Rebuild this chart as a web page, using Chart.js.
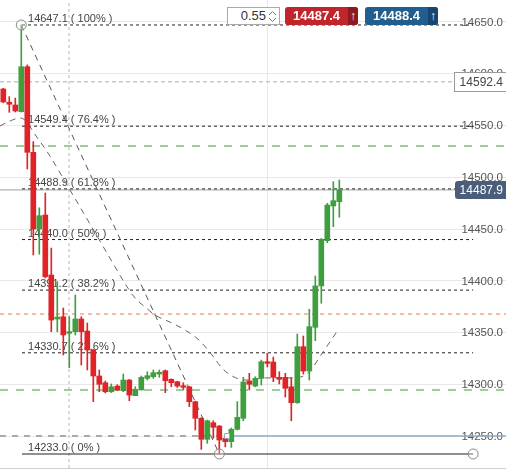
<!DOCTYPE html>
<html><head><meta charset="utf-8">
<script src="https://cdn.jsdelivr.net/npm/chart.js@4.4.0/dist/chart.umd.min.js"></script>
<style>
html,body{margin:0;padding:0;background:#fff;}
#wrap{position:relative;width:506px;height:473px;overflow:hidden;}
canvas{display:block;}
.w{position:absolute;top:7px;height:18px;box-sizing:border-box;font-family:"Liberation Sans",Arial,sans-serif;}
#inp{left:227px;width:53px;border:1px solid #aaa;background:#fff;color:#333;font-size:13px;line-height:16px;}
#inp .t{position:absolute;right:13px;top:0;}
#inp svg{position:absolute;right:2px;top:2px;}
.pb{width:73px;border-radius:3px;color:#fff;font-weight:bold;font-size:13px;line-height:18px;overflow:hidden;}
.pb .t{position:absolute;left:8px;top:0;}
.pb .a{position:absolute;right:0;top:0;width:10px;height:18px;text-align:center;font-size:12px;font-weight:bold;}
#sell{left:285px;background:#c1252c;}
#sell .a{background:#8e1a20;}
#buy{left:365px;background:#225e8d;}
#buy .a{background:#174670;}
</style></head><body>
<div id="wrap">
<canvas id="c" width="506" height="473"></canvas>
<div class="w" id="inp"><span class="t">0.55</span><svg width="9" height="13" viewBox="0 0 9 13"><polyline points="1,5 4.5,1.5 8,5" fill="none" stroke="#777" stroke-width="1"/><polyline points="1,8 4.5,11.5 8,8" fill="none" stroke="#777" stroke-width="1"/></svg></div>
<div class="w pb" id="sell"><span class="t">14487.4</span><span class="a">↑</span></div>
<div class="w pb" id="buy"><span class="t">14488.4</span><span class="a">↑</span></div>
</div>
<script>
// ---- data ----
const openP = [14585.3,14572.5,14569.9,14563.4,14606.8,14524.2,14450.2,14463.7,14405.8,14363.3,14365.5,14349.5,14351.1,14363.3,14351.7,14333.4,14308.3,14301.8,14293.1,14298.6,14294.1,14304.4,14289.3,14294.8,14306.0,14307.6,14310.2,14313.4,14305.1,14302.8,14298.9,14297.9,14283.5,14267.5,14247.2,14263.2,14260.0,14248.2,14244.9,14256.8,14267.5,14303.5,14298.6,14306.0,14322.1,14321.8,14307.0,14307.0,14297.9,14282.5,14336.6,14313.1,14355.3,14395.2,14438.9,14472.4,14476.5];
const highP = [14586.0,14577.9,14576.6,14647.1,14608.5,14534.5,14470.7,14484.9,14431.8,14399.3,14373.9,14365.5,14386.5,14365.5,14359.4,14334.0,14314.1,14303.5,14300.6,14299.9,14310.2,14305.0,14297.9,14308.3,14312.4,14314.1,14314.1,14314.1,14305.6,14303.3,14301.8,14298.4,14284.0,14268.0,14265.8,14265.1,14260.5,14251.3,14258.1,14283.5,14307.0,14310.9,14307.6,14323.7,14330.2,14326.6,14312.4,14310.9,14307.0,14348.8,14346.9,14372.7,14404.8,14441.0,14475.0,14495.8,14497.5];
const lowP = [14572.0,14562.8,14563.1,14563.0,14508.1,14425.1,14425.8,14403.0,14351.1,14351.1,14328.6,14316.3,14347.9,14318.9,14314.1,14283.5,14293.1,14291.9,14292.3,14294.1,14293.1,14284.5,14289.3,14294.8,14304.4,14306.0,14307.0,14292.2,14297.9,14297.2,14295.4,14278.7,14256.2,14237.5,14243.3,14248.2,14233.0,14239.9,14239.4,14256.2,14265.1,14294.8,14297.9,14299.6,14317.0,14302.8,14300.6,14288.0,14265.1,14281.9,14310.2,14304.4,14342.4,14378.5,14437.0,14452.4,14461.5];
const closeP = [14572.8,14570.6,14564.1,14606.8,14524.2,14450.2,14463.0,14404.1,14362.3,14365.2,14347.9,14351.1,14363.3,14351.1,14333.4,14308.3,14300.3,14293.1,14297.9,14294.8,14304.4,14289.9,14295.4,14307.0,14308.6,14311.5,14311.9,14303.8,14301.8,14298.6,14297.4,14283.5,14267.5,14247.2,14265.1,14258.8,14246.5,14244.9,14256.8,14268.4,14302.5,14300.3,14306.0,14322.1,14320.5,14307.0,14305.1,14296.4,14282.5,14336.6,14313.1,14355.9,14395.2,14440.2,14473.3,14477.5,14487.9];
const candleIdx = openP.map((_, i) => i);

const fibLevels = [14647.1, 14549.4, 14488.9, 14440.0, 14391.2, 14330.7, 14233.0];
const fibPct = ['100%', '76.4%', '61.8%', '50%', '38.2%', '23.6%', '0%'];
const fibAnchorStart = {x: 3, y: 14647.1};
const fibAnchorEnd = {x: 36, y: 14233.0};
const fibRightEnd = 78.3;

const curveX = [-0.55,0.78,2.78,3.78,5.12,7.45,11.12,18.45,20.12,21.95,23.62,25.28,28.12,30.28,32.62,34.78,36.45,38.12,40.28,43.62,48.28,50.78,53.28,55.78];
const curveY = [14549.6,14553.5,14557.3,14554.4,14542.8,14523.5,14487.8,14415.4,14399.0,14383.6,14374.9,14367.2,14359.4,14352.7,14343.0,14328.6,14316.0,14308.3,14304.4,14306.4,14306.4,14311.2,14331.5,14352.7];

const yTickVals = [14250, 14300, 14350, 14400, 14450, 14500, 14550, 14600, 14650];
const greenLevels = [14530.3, 14294.8];
const peachLevel = 14368.1;
const grayLevel = 14592.4;
const blueLevel = 14250.4;
const blueStart = 37.3;
const lastPrice = 14487.9;
const crossX = 10.95;
const vGrid = [19.95, 68.12];
const yRange = {min: 14219.5, max: 14671.2};
const xRange = {min: -0.55, max: 83.78};

const RED = '#df2326', GREEN = '#3f9f3f';
const col = candleIdx.map(i => closeP[i] >= openP[i] ? GREEN : RED);
const FONT = '"Liberation Sans", Arial, sans-serif';
Chart.defaults.font.family = FONT;

function hline(y, x0, x1, color, width, dash, order) {
  return {type: 'line', data: [{x: x0, y: y}, {x: x1, y: y}], borderColor: color, borderWidth: width,
    borderDash: dash, pointRadius: 0, fill: false, order: order, tension: 0};
}
const ds = [];
ds.push({type: 'bar', data: candleIdx.map(i => ({x: i, y: [lowP[i], highP[i]]})), backgroundColor: col,
  barThickness: 1, grouped: false, borderWidth: 0, order: 2});
ds.push({type: 'bar', data: candleIdx.map(i => ({x: i, y: [openP[i], closeP[i]]})), backgroundColor: col,
  barThickness: 5, grouped: false, borderWidth: 0, order: 1, minBarLength: 1});
ds.push(hline(grayLevel, xRange.min, xRange.max, '#c8c8c8', 1.5, [4, 3], 20));
greenLevels.forEach(v => ds.push(hline(v, xRange.min, xRange.max, 'rgba(120,190,120,0.75)', 2, [8, 8], 20)));
ds.push(hline(peachLevel, xRange.min, xRange.max, 'rgba(240,165,135,0.75)', 2, [4, 4], 20));
ds.push(hline(blueLevel, xRange.min, blueStart, '#a3abb5', 2, [6, 6], 20));
ds.push(hline(blueLevel, blueStart, xRange.max, '#8faac4', 1.6, [], 20));
ds.push(hline(lastPrice, xRange.min, xRange.max, '#a0a0a0', 1, [], 19));
ds.push({type: 'line', data: [{x: crossX, y: yRange.min}, {x: crossX, y: yRange.max}], borderColor: '#b8b8b8',
  borderWidth: 1, borderDash: [3, 3], pointRadius: 0, order: 21});
fibLevels.forEach((v, k) => {
  if (k === fibLevels.length - 1) ds.push(hline(v, fibAnchorStart.x + 0.12, fibRightEnd, '#222', 1.2, [], 10));
  else ds.push(hline(v, fibAnchorStart.x + 0.12, fibRightEnd, '#222', 1, [3, 3], 10));
});
ds.push({type: 'line', data: [fibAnchorStart, fibAnchorEnd], borderColor: '#555', borderWidth: 1,
  borderDash: [6, 5], pointRadius: 0, order: 9});
ds.push({type: 'line', data: curveX.map((x, k) => ({x: x, y: curveY[k]})), borderColor: '#666', borderWidth: 1,
  borderDash: [6, 5], pointRadius: 0, order: 9, tension: 0.2, cubicInterpolationMode: 'monotone'});
ds.push({type: 'line', showLine: false, data: [fibAnchorStart, fibAnchorEnd, {x: fibRightEnd, y: fibAnchorEnd.y}],
  pointRadius: 5, pointBorderColor: '#8a8a8a', pointBackgroundColor: 'rgba(255,255,255,0.3)', pointBorderWidth: 1, order: -1});
ds.push({type: 'line', showLine: false, data: [{x: blueStart, y: blueLevel}], pointStyle: 'rect', pointRadius: 3.5,
  pointBorderColor: '#8faac4', pointBackgroundColor: '#fff', pointBorderWidth: 1, order: -1});

const labelPlugin = {
  id: 'fibLabels',
  beforeDatasetsDraw(chart) {
    const {ctx, scales: {x, y}, chartArea} = chart;
    ctx.save();
    ctx.font = '11.5px ' + FONT;
    ctx.fillStyle = '#555';
    ctx.textAlign = 'right';
    ctx.textBaseline = 'middle';
    y.ticks.forEach(t => ctx.fillText(Number(t.value).toFixed(1), chartArea.right - 3, y.getPixelForValue(t.value) + 0.5));
    ctx.font = '11px ' + FONT;
    ctx.fillStyle = '#444';
    ctx.textAlign = 'left';
    ctx.textBaseline = 'alphabetic';
    fibLevels.forEach((v, k) => {
      ctx.fillText(v.toFixed(1) + ' ( ' + fibPct[k] + ' )', x.getPixelForValue(fibAnchorStart.x + 1.12), y.getPixelForValue(v) - 3);
    });
    ctx.restore();
  },
  afterDraw(chart) {
    const {ctx, scales: {y}, chartArea} = chart;
    ctx.save();
    ctx.font = '12px ' + FONT;
    ctx.textAlign = 'right';
    ctx.textBaseline = 'middle';
    const R = chartArea.right;
    let py = Math.round(y.getPixelForValue(grayLevel));
    ctx.fillStyle = '#fff'; ctx.strokeStyle = '#9a9a9a'; ctx.lineWidth = 1;
    ctx.fillRect(454.5, py - 9.5, 52, 19); ctx.strokeRect(454.5, py - 9.5, 52, 19);
    ctx.fillStyle = '#444'; ctx.fillText(grayLevel.toFixed(1), R - 3, py + 0.5);
    py = Math.round(y.getPixelForValue(lastPrice));
    ctx.fillStyle = '#4a5d7a';
    ctx.beginPath(); ctx.roundRect(455, py - 9, 53, 18, 3); ctx.fill();
    ctx.fillStyle = '#fff'; ctx.fillText(lastPrice.toFixed(1), R - 3, py + 0.5);
    ctx.restore();
  }
};

new Chart(document.getElementById('c'), {
  type: 'bar',
  data: {datasets: ds},
  options: {
    responsive: false, animation: false,
    layout: {autoPadding: false, padding: {left: 0, right: 0, top: 0, bottom: 5}},
    plugins: {legend: {display: false}, tooltip: {enabled: false}},
    scales: {
      x: {type: 'linear', min: xRange.min, max: xRange.max, offset: false,
        ticks: {display: false}, grid: {color: '#e8e8e8', drawTicks: false},
        border: {display: true, color: '#cfcfcf'},
        afterBuildTicks: s => { s.ticks = vGrid.map(v => ({value: v})); }},
      y: {position: 'right', min: yRange.min, max: yRange.max,
        grid: {color: '#e8e8e8', drawTicks: false}, border: {display: false},
        ticks: {display: false},
        afterBuildTicks: s => { s.ticks = yTickVals.map(v => ({value: v})); },
        afterFit: s => { s.paddingTop = 0; s.paddingBottom = 0; s.width = 0; }}
    }
  },
  plugins: [labelPlugin]
});
</script>
</body></html>
